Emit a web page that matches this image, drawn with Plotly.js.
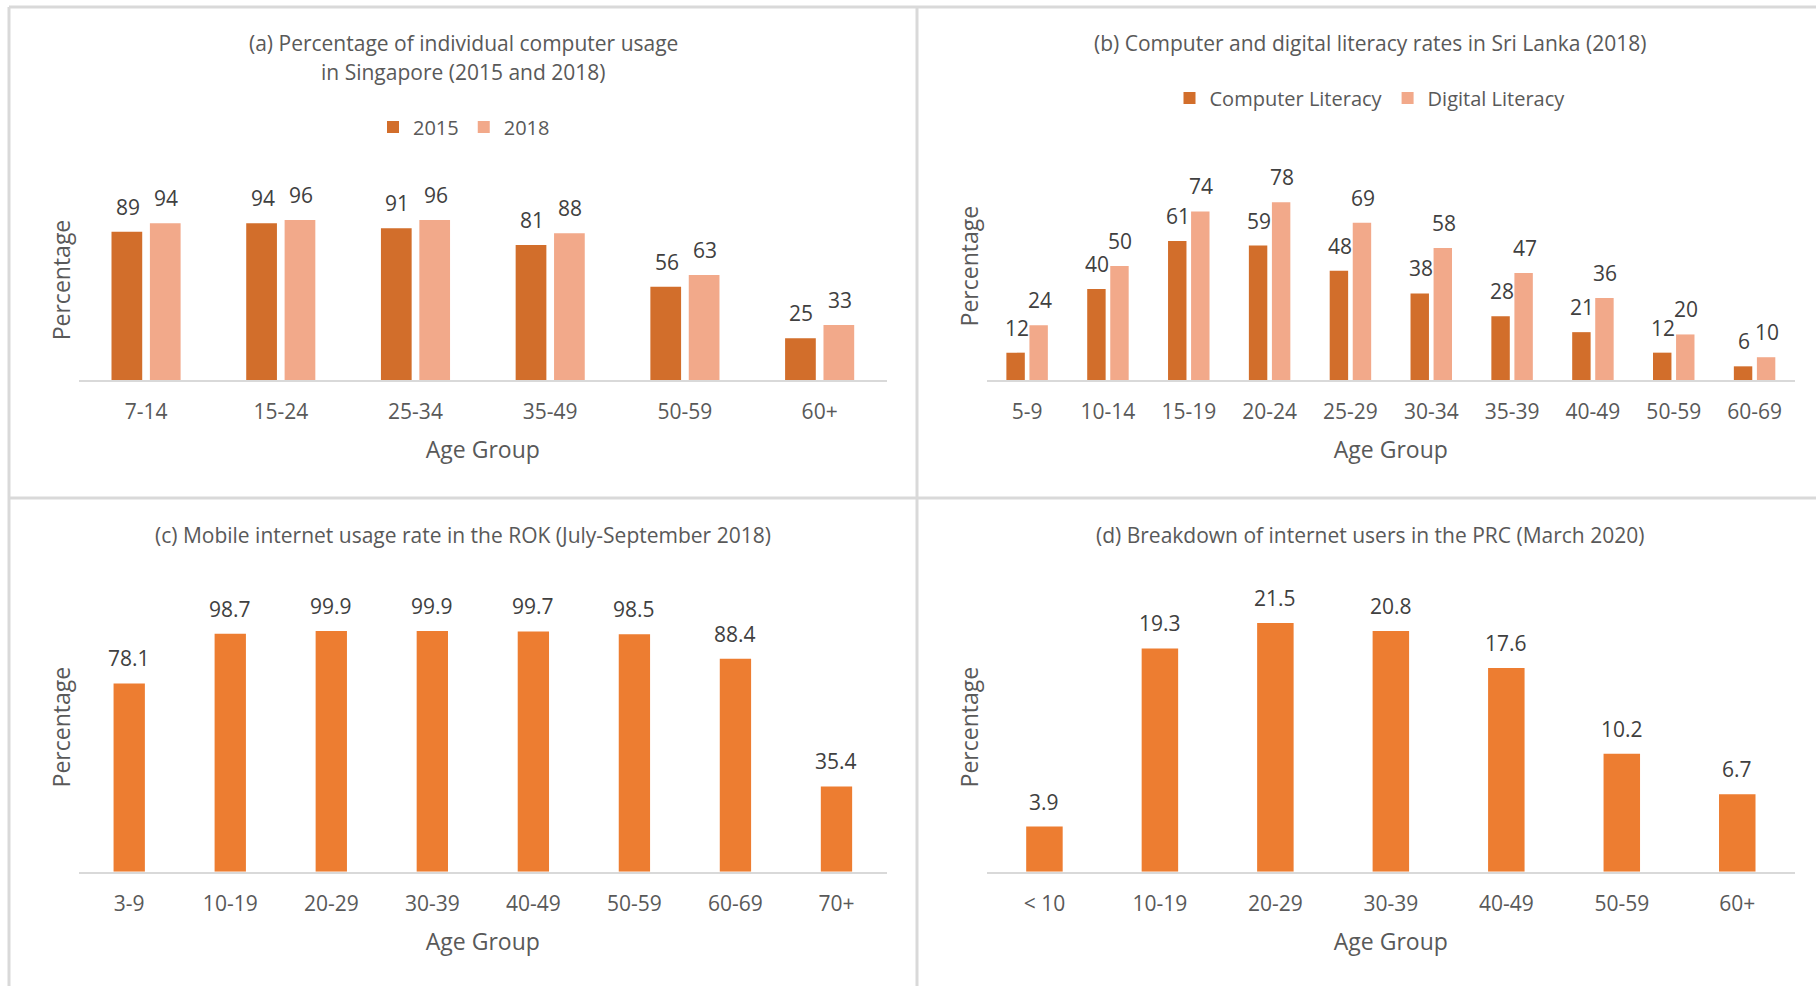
<!DOCTYPE html>
<html>
<head>
<meta charset="utf-8">
<script src="https://cdn.plot.ly/plotly-3.0.1.min.js"></script>
<style>html,body{margin:0;padding:0;background:#fff;}#chart{width:1816px;height:986px;}</style>
</head>
<body>
<div id="chart"></div>
<script>
// ---- data ----
const catsA = ['7-14', '15-24', '25-34', '35-49', '50-59', '60+'];
const a2015 = [89, 94, 91, 81, 56, 25];
const a2018 = [94, 96, 96, 88, 63, 33];

const catsB = ['5-9', '10-14', '15-19', '20-24', '25-29', '30-34', '35-39', '40-49', '50-59', '60-69'];
const bComputer = [12, 40, 61, 59, 48, 38, 28, 21, 12, 6];
const bDigital = [24, 50, 74, 78, 69, 58, 47, 36, 20, 10];

const catsC = ['3-9', '10-19', '20-29', '30-39', '40-49', '50-59', '60-69', '70+'];
const cMobile = [78.1, 98.7, 99.9, 99.9, 99.7, 98.5, 88.4, 35.4];

const catsD = ['< 10', '10-19', '20-29', '30-39', '40-49', '50-59', '60+'];
const dUsers = [3.9, 19.3, 21.5, 20.8, 17.6, 10.2, 6.7];

const titleA1 = '(a) Percentage of individual computer usage';
const titleA2 = 'in Singapore (2015 and 2018)';
const titleB = '(b) Computer and digital literacy rates in Sri Lanka (2018)';
const titleC = '(c) Mobile internet usage rate in the ROK (July-September 2018)';
const titleD = '(d) Breakdown of internet users in the PRC (March 2020)';

// ---- layout helpers ----
const W = 1816, H = 986;
const px = p => p / W;
const py = p => 1 - p / H;
const FONT = 'Open Sans, Noto Sans, sans-serif';
const DARK = '#D26E2B', LIGHT = '#F2A98A', ORANGE = '#ED7D31';
const GRAY = '#595959', LABEL = '#404040', LINE = '#D9D9D9';
const BARGAP = 0.43, GROUPGAP = 0.2;

const leftX = [78.7, 887], rightX = [986.7, 1795];
const topBase = 380, botBase = 871.7;

const traces = [
  {type: 'bar', name: '2015', x: catsA, y: a2015, marker: {color: DARK}, xaxis: 'x', yaxis: 'y', legend: 'legend', hoverinfo: 'x+y'},
  {type: 'bar', name: '2018', x: catsA, y: a2018, marker: {color: LIGHT}, xaxis: 'x', yaxis: 'y', legend: 'legend', hoverinfo: 'x+y'},
  {type: 'bar', name: 'Computer Literacy', x: catsB, y: bComputer, marker: {color: DARK}, xaxis: 'x2', yaxis: 'y2', legend: 'legend2', hoverinfo: 'x+y'},
  {type: 'bar', name: 'Digital Literacy', x: catsB, y: bDigital, marker: {color: LIGHT}, xaxis: 'x2', yaxis: 'y2', legend: 'legend2', hoverinfo: 'x+y'},
  {type: 'bar', name: 'Mobile', x: catsC, y: cMobile, width: 0.31, marker: {color: ORANGE}, xaxis: 'x3', yaxis: 'y3', showlegend: false, hoverinfo: 'x+y'},
  {type: 'bar', name: 'Users', x: catsD, y: dUsers, width: 0.316, marker: {color: ORANGE}, xaxis: 'x4', yaxis: 'y4', showlegend: false, hoverinfo: 'x+y'}
];

function xAxis(dom) {
  return {
    domain: [px(dom[0]), px(dom[1])], type: 'category',
    showline: true, linecolor: LINE, linewidth: 2, showgrid: false, zeroline: false,
    ticks: '', ticklabelstandoff: 12, automargin: false,
    tickfont: {family: FONT, size: 21, color: GRAY},
    title: {text: 'Age Group', font: {family: FONT, size: 23, color: GRAY}, standoff: 18}
  };
}
function yAxis(bottomPx, topPx, range, anchor) {
  return {
    domain: [py(bottomPx), py(topPx)], range: range, anchor: anchor,
    showline: false, showgrid: false, zeroline: false, showticklabels: false, ticks: '',
    automargin: false,
    title: {text: 'Percentage', font: {family: FONT, size: 23, color: GRAY}, standoff: 0}
  };
}

// data labels
const annotations = [];
function addLabels(cats, vals, xref, yref, shiftPx) {
  cats.forEach((c, i) => annotations.push({
    xref: xref, yref: yref, x: c, y: vals[i], text: String(vals[i]),
    showarrow: false, xanchor: 'center', yanchor: 'middle', yshift: 25, xshift: shiftPx,
    font: {family: FONT, size: 21, color: LABEL}
  }));
}
const catPxA = (leftX[1] - leftX[0]) / catsA.length;
const catPxB = (rightX[1] - rightX[0]) / catsB.length;
const slotA = (1 - BARGAP) / 2 * catPxA, slotB = (1 - BARGAP) / 2 * catPxB;
addLabels(catsA, a2015, 'x', 'y', -slotA / 2 + 1);
addLabels(catsA, a2018, 'x', 'y', slotA / 2 + 1);
addLabels(catsB, bComputer, 'x2', 'y2', -slotB / 2 + 1);
addLabels(catsB, bDigital, 'x2', 'y2', slotB / 2 + 1);
addLabels(catsC, cMobile, 'x3', 'y3', 0);
addLabels(catsD, dUsers, 'x4', 'y4', 0);

// panel titles
[[titleA1, 463, 43], [titleA2, 463, 72], [titleB, 1370, 43], [titleC, 463, 535], [titleD, 1370, 535]].forEach(t => annotations.push({
  xref: 'paper', yref: 'paper', x: px(t[1]), y: py(t[2]), text: t[0], showarrow: false,
  xanchor: 'center', yanchor: 'middle', align: 'center',
  font: {family: FONT, size: 21, color: GRAY}
}));

// panel borders
const bw = 3;
const shapes = [
  {type: 'line', xref: 'paper', yref: 'paper', x0: px(9), x1: px(9), y0: py(7), y1: py(986), line: {color: LINE, width: bw}},
  {type: 'line', xref: 'paper', yref: 'paper', x0: px(9), x1: px(1816), y0: py(7), y1: py(7), line: {color: LINE, width: bw}},
  {type: 'line', xref: 'paper', yref: 'paper', x0: px(917), x1: px(917), y0: py(7), y1: py(986), line: {color: LINE, width: bw}},
  {type: 'line', xref: 'paper', yref: 'paper', x0: px(9), x1: px(1816), y0: py(498), y1: py(498), line: {color: LINE, width: bw}}
];

const legendBase = {
  orientation: 'h', xanchor: 'center', yanchor: 'middle',
  font: {family: FONT, size: 20, color: GRAY}, bgcolor: 'rgba(0,0,0,0)', traceorder: 'normal'
};

const layout = {
  width: W, height: H, margin: {l: 0, r: 0, t: 0, b: 0},
  paper_bgcolor: '#fff', plot_bgcolor: 'rgba(0,0,0,0)',
  font: {family: FONT, color: GRAY},
  barmode: 'group', bargap: BARGAP, bargroupgap: GROUPGAP,
  showlegend: true,
  legend: Object.assign({}, legendBase, {x: px(464), y: py(127)}),
  legend2: Object.assign({}, legendBase, {x: px(1370), y: py(98)}),
  xaxis: Object.assign(xAxis(leftX), {anchor: 'y'}),
  yaxis: yAxis(topBase, topBase - 200, [0, 120], 'x'),
  xaxis2: Object.assign(xAxis(rightX), {anchor: 'y2'}),
  yaxis2: yAxis(topBase, topBase - 227.8, [0, 100], 'x2'),
  xaxis3: Object.assign(xAxis(leftX), {anchor: 'y3'}),
  yaxis3: yAxis(botBase, botBase - 289.2, [0, 120], 'x3'),
  xaxis4: Object.assign(xAxis(rightX), {anchor: 'y4'}),
  yaxis4: yAxis(botBase, botBase - 289.2, [0, 25], 'x4'),
  annotations: annotations,
  shapes: shapes
};

Plotly.newPlot('chart', traces, layout, {displayModeBar: false, responsive: false});
</script>
</body>
</html>
